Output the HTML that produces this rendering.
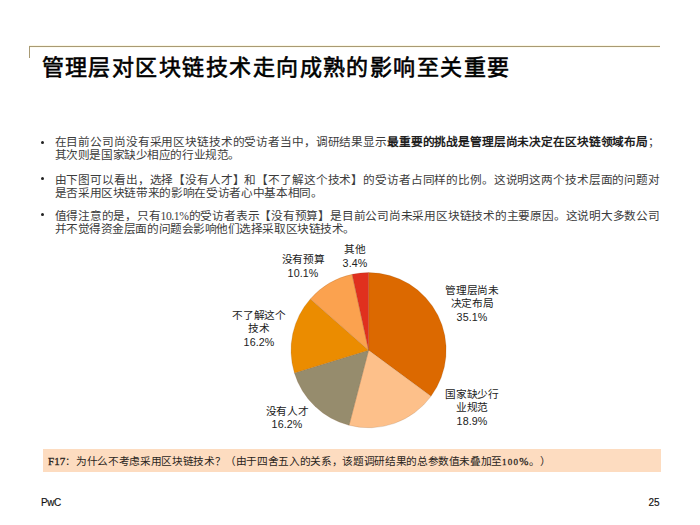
<!DOCTYPE html>
<html lang="zh-CN">
<head>
<meta charset="utf-8">
<style>
html,body{margin:0;padding:0;background:#fff;}
body{width:700px;height:525px;position:relative;overflow:hidden;text-spacing-trim:space-all;font-family:"Liberation Serif",serif;color:#222;}
.hl{position:absolute;left:29px;top:46px;width:631px;height:1px;background:#a89a74;box-shadow:0 -1px 0 #fcf8e6,0 1px 0 #fdfbf0;}
.vl{position:absolute;left:29px;top:46px;width:1px;height:12px;background:#a89a74;}
.title{position:absolute;left:41.5px;top:54px;font-family:"Liberation Sans",sans-serif;font-size:22px;letter-spacing:1.46px;-webkit-text-stroke:0.6px #000;line-height:28px;color:#000;white-space:nowrap;}
.ln{position:absolute;left:54.6px;font-size:11.67px;letter-spacing:-0.45px;line-height:13px;white-space:nowrap;color:#3c3c3c;}
.ln b{color:#1e1e1e;}
.j{width:605px;text-align:justify;text-align-last:justify;white-space:normal;}
.bu{position:absolute;left:41px;width:3px;height:3px;border-radius:50%;background:#222;}
.lab{position:absolute;font-family:"Liberation Sans",sans-serif;font-size:10.7px;letter-spacing:-0.35px;line-height:13.5px;text-align:center;color:#222;white-space:nowrap;}
.d{letter-spacing:0.1px;}
.foot{position:absolute;left:42.5px;top:449px;width:618px;height:23.3px;background:#fddcc0;}
.ft{position:absolute;left:48px;top:454px;font-size:10.7px;letter-spacing:-0.35px;line-height:14px;white-space:nowrap;color:#2a2520;}
.lat{font-size:11px;letter-spacing:0.1px;-webkit-text-stroke:0.3px #2a2520;}
.n{font-size:11px;letter-spacing:0.6px;}
.os{font-size:9px;letter-spacing:1.2px;}
.pwc{position:absolute;left:41px;top:497px;font-family:"Liberation Sans",sans-serif;font-size:10px;letter-spacing:-0.4px;-webkit-text-stroke:0.15px #111;line-height:12px;color:#111;}
.pg{position:absolute;left:648.5px;top:497px;font-family:"Liberation Sans",sans-serif;font-size:10px;-webkit-text-stroke:0.15px #111;line-height:12px;color:#111;}
</style>
</head>
<body>
<div class="hl"></div><div class="vl"></div>
<div class="title">管理层对区块链技术走向成熟的影响至关重要</div>

<div class="bu" style="top:141px"></div>
<div class="ln j" id="l1" style="top:136px">在目前公司尚没有采用区块链技术的受访者当中，调研结果显示<b>最重要的挑战是管理层尚未决定在区块链领域布局</b>；</div>
<div class="ln" id="l2" style="top:149px;letter-spacing:-0.41px">其次则是国家缺少相应的行业规范。</div>

<div class="bu" style="top:177px"></div>
<div class="ln j" id="l3" style="top:173.5px">由下图可以看出，选择【没有人才】和【不了解这个技术】的受访者占同样的比例。这说明这两个技术层面的问题对</div>
<div class="ln" id="l4" style="top:186.5px;letter-spacing:-0.35px">是否采用区块链带来的影响在受访者心中基本相同。</div>

<div class="bu" style="top:213px"></div>
<div class="ln j" id="l5" style="top:209.5px">值得注意的是，只有10.1%的受访者表示【没有预算】是目前公司尚未采用区块链技术的主要原因。这说明大多数公司</div>
<div class="ln" id="l6" style="top:222.5px">并不觉得资金层面的问题会影响他们选择采取区块链技术。</div>

<svg style="position:absolute;left:0;top:0" width="700" height="525" viewBox="0 0 700 525">
<g id="pie" stroke="rgba(110,60,10,0.22)" stroke-width="0.7" stroke-linejoin="round">
<path d="M368.6,350.2 L368.60,272.60 A77.6,77.6 0 0 1 430.99,396.34 Z" fill="#dc6900"/>
<path d="M368.6,350.2 L430.99,396.34 A77.6,77.6 0 0 1 349.05,425.30 Z" fill="#fdc08a"/>
<path d="M368.6,350.2 L349.05,425.30 A77.6,77.6 0 0 1 294.40,372.92 Z" fill="#968c6d"/>
<path d="M368.6,350.2 L294.40,372.92 A77.6,77.6 0 0 1 310.35,298.93 Z" fill="#eb8c00"/>
<path d="M368.6,350.2 L310.35,298.93 A77.6,77.6 0 0 1 352.13,274.37 Z" fill="#fba24f"/>
<path d="M368.6,350.2 L352.13,274.37 A77.6,77.6 0 0 1 368.60,272.60 Z" fill="#e0301e"/>
</g>
</svg>

<div class="lab" style="left:335px;top:243px;width:40px">其他<br><span class="d">3.4%</span></div>
<div class="lab" style="left:278px;top:253px;width:50px">没有预算<br><span class="d">10.1%</span></div>
<div class="lab" style="left:228px;top:308.5px;width:62px">不了解这个<br>技术<br><span class="d">16.2%</span></div>
<div class="lab" style="left:262px;top:404.5px;width:50px">没有人才<br><span class="d">16.2%</span></div>
<div class="lab" style="left:442px;top:283.5px;width:60px">管理层尚未<br>决定布局<br><span class="d">35.1%</span></div>
<div class="lab" style="left:442px;top:387.5px;width:60px">国家缺少行<br>业规范<br><span class="d">18.9%</span></div>

<div class="foot"></div>
<div class="ft"><span class="lat">F17</span>：为什么不考虑采用区块链技术？（由于四舍五入的关系，该题调研结果的总参数值未叠加至<span class="lat n"><span class="os">100</span>%</span>。）</div>

<div class="pwc">PwC</div>
<div class="pg">25</div>
</body>
</html>
